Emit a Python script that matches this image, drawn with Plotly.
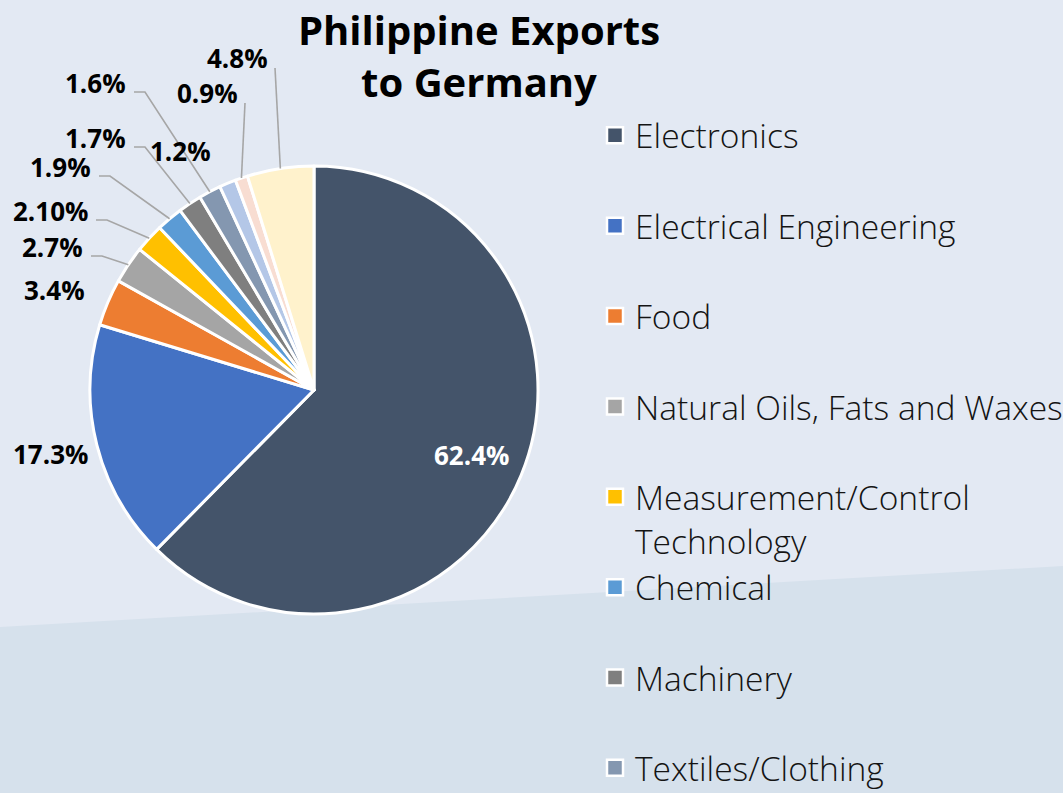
import math
import plotly.graph_objects as go

# ---------------- data ----------------
categories = [
    "Electronics", "Electrical Engineering", "Food", "Natural Oils, Fats and Waxes",
    "Measurement/Control Technology", "Chemical", "Machinery", "Textiles/Clothing",
    "Furniture", "Toys", "Others",
]
shares = [62.4, 17.3, 3.4, 2.7, 2.10, 1.9, 1.7, 1.6, 1.2, 0.9, 4.8]
share_labels = ["62.4%", "17.3%", "3.4%", "2.7%", "2.10%", "1.9%", "1.7%",
                "1.6%", "1.2%", "0.9%", "4.8%"]
colors = ["#44546A", "#4472C4", "#ED7D31", "#A5A5A5", "#FFC000", "#5B9BD5",
          "#7F7F7F", "#8497B0", "#B4C7E7", "#F8DDD2", "#FFF2CC"]
legend_visible_count = 8  # the reference legend is cut off after 8 entries

# ---------------- layout constants ----------------
W, H = 1063, 793
CX, CY, R = 314, 390, 224          # pie centre / radius in pixels

# outside label placement (right edge x, centre y, leader style) by slice index
label_place = {
    1: (90, 454, None),
    2: (87, 290, None),
    3: (85, 247, "elbow"),
    4: (90, 211, "elbow"),
    5: (93, 167, "elbow"),
    6: (128, 138, "elbow"),
    7: (128, 83, "elbow"),
    8: (213, 151, None),
    9: (240, 93, "straight"),
    10: (270, 58, "straight"),
}


def px(x):
    return x / W


def py(y):
    return 1 - y / H


total = sum(shares)
mid_angles = []
cum = 0.0
for v in shares:
    mid_angles.append(2 * math.pi * (cum + v / 2) / total)
    cum += v


def polar(theta, r):
    return CX + r * math.sin(theta), CY - r * math.cos(theta)


fig = go.Figure()

fig.add_trace(go.Pie(
    labels=categories,
    values=shares,
    sort=False,
    direction="clockwise",
    rotation=0,
    marker=dict(colors=colors, line=dict(color="white", width=3)),
    textinfo="none",
    domain=dict(x=[px(CX - R), px(CX + R)], y=[py(CY + R), py(CY - R)]),
    showlegend=False,
    hoverinfo="label+percent",
))

# legend entries (only those visible in the reference)
for i in range(legend_visible_count):
    name = categories[i]
    if name == "Measurement/Control Technology":
        name = "Measurement/Control<br>Technology"
    elif i < legend_visible_count - 1:
        name = name + "<br>\u00a0"
    fig.add_trace(go.Scatter(
        x=[-10], y=[-10], mode="markers", name=name,
        marker=dict(symbol="square", size=16, color=colors[i],
                    line=dict(color="white", width=2.5)),
        hoverinfo="skip", showlegend=True,
    ))

annotations = []
shapes = []

# background lower band
shapes.append(dict(
    type="path", xref="paper", yref="paper", layer="below",
    path=f"M 0,{py(627)} L 1,{py(566)} L 1,0 L 0,0 Z",
    fillcolor="#D6E1EC", line=dict(width=0),
))

LABEL_FONT = 26

# inside label of the largest slice
lx, ly = polar(mid_angles[0], 0.76 * R)
annotations.append(dict(
    x=px(lx), y=py(ly), xref="paper", yref="paper", text=share_labels[0],
    showarrow=False, xanchor="center", yanchor="middle",
    font=dict(family="Open Sans", size=LABEL_FONT, color="white", weight="bold"),
))

for i, (rx, cy, style) in label_place.items():
    annotations.append(dict(
        x=px(rx), y=py(cy), xref="paper", yref="paper", text=share_labels[i],
        showarrow=False, xanchor="right", yanchor="middle",
        font=dict(family="Open Sans", size=LABEL_FONT, color="black", weight="bold"),
    ))
    ex, ey = polar(mid_angles[i], R)
    if style == "elbow":
        path = (f"M {px(rx + 6)},{py(cy + 9)} L {px(rx + 17)},{py(cy + 9)} "
                f"L {px(ex)},{py(ey)}")
    elif style == "straight":
        path = f"M {px(rx + 5)},{py(cy + 10)} L {px(ex)},{py(ey)}"
    else:
        continue
    shapes.append(dict(type="path", xref="paper", yref="paper", path=path,
                       line=dict(color="#A6A6A6", width=1.6)))

fig.update_layout(
    width=W, height=H, autosize=False,
    margin=dict(l=0, r=0, t=0, b=0, autoexpand=False),
    paper_bgcolor="#E3E9F3",
    plot_bgcolor="rgba(0,0,0,0)",
    title=dict(
        text="<b>Philippine Exports<br>to Germany</b>",
        x=479 / W, xref="container", xanchor="center",
        y=1 - 45 / H, yref="container", yanchor="middle",
        font=dict(family="Open Sans", size=40, color="black"),
    ),
    xaxis=dict(visible=False, range=[0, 1], fixedrange=True),
    yaxis=dict(visible=False, range=[0, 1], fixedrange=True),
    legend=dict(
        x=px(595), y=py(107), xanchor="left", yanchor="top",
        xref="paper", yref="paper",
        bgcolor="rgba(0,0,0,0)", valign="top",
        font=dict(family="Open Sans", size=33.6, color="#141414", weight=300),
        itemclick=False, itemdoubleclick=False,
    ),
    annotations=annotations,
    shapes=shapes,
)

fig.write_html(
    "out.html",
    config={"displayModeBar": False},
    post_script="document.body.style.margin='0';document.body.style.overflow='hidden';",
)
